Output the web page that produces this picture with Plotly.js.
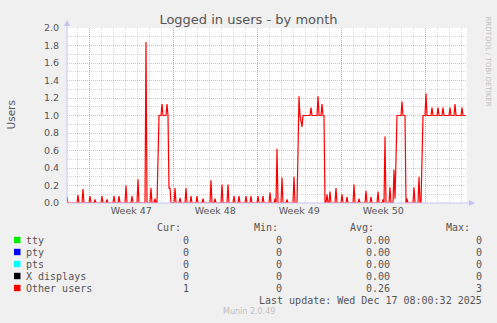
<!DOCTYPE html>
<html><head><meta charset="utf-8">
<script src="https://cdn.plot.ly/plotly-3.0.1.min.js"></script>
<style>html,body{margin:0;padding:0;background:#f0f0f0;}#chart{width:497px;height:323px;}</style>
</head><body><div id="chart"></div>
<script>
// ---- data ----
const startTimeMs = Date.UTC(2025, 10, 15, 3, 20);   // left edge of the graph
const stepHours = 2;                                  // one sample every 2 hours
const otherUsers = [
 0.07,0,0,0,0,0,0,0,0,0,0,0.09,0,0,0,0,0.16,0,0,0,
 0,0,0,0.08,0,0,0,0,0.04,0,0,0,0,0,0,0.08,0,0,0,0,
 0.04,0,0,0,0,0,0,0.08,0,0,0,0,0.08,0,0,0,0,0,0,0.2,
 0,0,0,0,0,0.08,0,0,0,0,0,0.27,0,0,0,0,0,0,0,1.84,
 0,0,0,0,0.17,0,0,0,0.05,0,0,0.4,1,1,1,1.13,1,1,1,1,
 1.13,1,0.17,0.17,0,0,0,0,0.17,0,0,0,0,0.06,0,0,0,0,0,0.17,
 0,0,0,0,0.08,0,0,0,0,0,0.08,0,0,0,0,0,0.05,0,0,0,
 0,0,0,0,0.26,0,0,0,0.05,0,0,0,0,0,0,0.21,0,0,0,0,
 0,0.21,0,0,0,0,0,0.08,0,0,0,0,0.08,0,0,0,0,0,0,0.08,
 0,0,0,0,0.08,0,0,0,0,0,0,0.08,0,0,0,0,0.08,0,0,0,
 0,0,0,0.12,0,0,0,0,0.05,0,0.62,0,0,0,0,0.29,0,0,0,0,
 0.04,0,0,0,0,0,0,0.3,0,0,0,0.6,1.22,1,0.93,0.87,1,1,1,1,
 1,1,1,1,1.09,1,1,1,1,1,1,1.22,1,1,1,1.13,1,1,0,0,
 0.1,0,0,0.13,0,0,0,0,0,0.17,0,0,0,0,0,0.1,0,0,0,0,
 0.07,0,0,0,0,0,0,0.21,0,0,0,0,0.05,0,0,0,0,0,0,0.14,
 0,0,0,0,0.07,0,0,0,0,0,0,0.13,0,0,0,0,0.04,0,0.76,0,
 0,0,0,0.18,0,0,0,0.38,0.05,0.5,1,1,1,1,1,1.16,1,1,1,0,
 0.05,0,0,0,0,0,0,0.18,0,0,0,0,0.3,0,0,0.5,1,1,1,1.25,
 1,1,1,1,1,1.09,1,1,1,1,1,1.09,1,1,1,1,1.09,1,1,1,
 1,1,1,1.09,1,1,1,1,1.13,1,1,1,1,1,1,1.09,1,1,1,1
];
const weekStarts = ['2025-11-17', '2025-11-24', '2025-12-01', '2025-12-08', '2025-12-15'];
const weekLabels = ['Week 47', 'Week 48', 'Week 49', 'Week 50', ''];
const seriesNames  = ['tty', 'pty', 'pts', 'X displays', 'Other users'];
const seriesColors = ['#00ee00', '#0000ff', '#00ffff', '#000000', '#ff0000'];
const curValues = ['0', '0', '0', '0', '1'];
const minValues = ['0', '0', '0', '0', '0'];
const avgValues = ['0.00', '0.00', '0.00', '0.00', '0.26'];
const maxValues = ['0', '0', '0', '0', '3'];
const colHeaders = ['Cur:', 'Min:', 'Avg:', 'Max:'];
const lastUpdate = 'Last update: Wed Dec 17 08:00:32 2025';

// ---- geometry ----
const W = 497, H = 323;
const PL = 67, PR = 467, PT = 28, PB = 203;
const px = v => (v - PL) / (PR - PL);
const py = v => (PB - v) / (PB - PT);
const HOUR = 3600000;
const xs = otherUsers.map((_, i) => startTimeMs + i * stepHours * HOUR);
const xEnd = startTimeMs + otherUsers.length * stepHours * HOUR;

const axisCol = '#c4c4f4';
const txtCol = '#555555';
const mono = 'DejaVu Sans Mono';
const sans = 'DejaVu Sans';
const majorGrid = 'rgba(225,90,90,0.45)';
const minorGrid = 'rgba(150,150,150,0.38)';

const shapes = [
  {type:'line', xref:'paper', yref:'paper', x0:px(PL), x1:px(PL), y0:py(PB), y1:py(24), line:{color:axisCol, width:1}},
  {type:'path', xref:'paper', yref:'paper', path:`M ${px(PL-3)} ${py(26)} L ${px(PL+3)} ${py(26)} L ${px(PL)} ${py(20)} Z`, fillcolor:axisCol, line:{width:0}},
  {type:'line', xref:'paper', yref:'paper', x0:px(PL), x1:px(471), y0:py(PB), y1:py(PB), line:{color:axisCol, width:1}},
  {type:'path', xref:'paper', yref:'paper', path:`M ${px(469)} ${py(PB-3)} L ${px(469)} ${py(PB+3)} L ${px(475)} ${py(PB)} Z`, fillcolor:axisCol, line:{width:0}}
];

const annotations = [];
const rowY = [240, 252, 264, 276, 288];
const headerY = 227;
const colRight = [181, 278, 374, 470];
const valRight = [189, 282, 390, 482];
colHeaders.forEach((h, j) => annotations.push({xref:'paper', yref:'paper', x:px(colRight[j]), y:py(headerY), text:h, showarrow:false, xanchor:'right', yanchor:'middle', font:{family:mono, size:10, color:txtCol}, borderpad:0, borderwidth:0}));
seriesNames.forEach((name, k) => {
  shapes.push({type:'rect', xref:'paper', yref:'paper', x0:px(14), x1:px(20.5), y0:py(rowY[k]+3.2), y1:py(rowY[k]-3.2), fillcolor:seriesColors[k], line:{width:0}});
  annotations.push({xref:'paper', yref:'paper', x:px(26), y:py(rowY[k]), text:name, showarrow:false, xanchor:'left', yanchor:'middle', font:{family:mono, size:10, color:txtCol}, borderpad:0, borderwidth:0});
  [curValues[k], minValues[k], avgValues[k], maxValues[k]].forEach((v, j) => {
    annotations.push({xref:'paper', yref:'paper', x:px(valRight[j]), y:py(rowY[k]), text:v, showarrow:false, xanchor:'right', yanchor:'middle', font:{family:mono, size:10, color:txtCol}, borderpad:0, borderwidth:0});
  });
});
annotations.push({xref:'paper', yref:'paper', x:px(482), y:py(300), text:lastUpdate, showarrow:false, xanchor:'right', yanchor:'middle', font:{family:mono, size:10, color:txtCol}, borderpad:0, borderwidth:0});
annotations.push({xref:'paper', yref:'paper', x:px(248.5), y:py(311), text:'Munin 2.0.49', showarrow:false, xanchor:'center', yanchor:'middle', font:{family:sans, size:8, color:'#c0c0c0'}, borderpad:0, borderwidth:0});
annotations.push({xref:'paper', yref:'paper', x:px(487.5), y:py(61), text:'RRDTOOL / TOBI OETIKER', showarrow:false, textangle:90, xanchor:'center', yanchor:'middle', font:{family:sans, size:7, color:'#c0c0c0'}, borderpad:0, borderwidth:0});
annotations.push({xref:'paper', yref:'paper', x:px(10.5), y:py(115), text:'Users', showarrow:false, textangle:-90, xanchor:'center', yanchor:'middle', font:{family:sans, size:10.5, color:txtCol}, borderpad:0, borderwidth:0});

const traces = [{
  type:'scatter', mode:'lines', name:'Other users', x:xs, y:otherUsers,
  line:{color:'#ff0000', width:1.2}, hoverinfo:'skip'
}];

const layout = {
  width:W, height:H,
  margin:{l:PL, r:W-PR, t:PT, b:H-PB, pad:0},
  paper_bgcolor:'#f0f0f0', plot_bgcolor:'#ffffff',
  showlegend:false,
  title:{text:'Logged in users - by month', x:0.5, xref:'container', xanchor:'center', y:1-19/H, yref:'container', yanchor:'middle', font:{family:sans, size:13, color:txtCol}},
  xaxis:{
    type:'date', range:[startTimeMs, xEnd], fixedrange:true,
    tickmode:'array', tickvals:weekStarts, ticktext:weekLabels, ticklabelshift:42,
    ticks:'', showline:false, zeroline:false,
    showgrid:true, gridcolor:majorGrid, griddash:'1px,1px', gridwidth:1,
    minor:{dtick:86400000, tick0:'2025-11-17', showgrid:true, gridcolor:minorGrid, griddash:'1px,1px', gridwidth:1, ticks:''},
    tickfont:{family:sans, size:9.5, color:txtCol}
  },
  yaxis:{
    range:[0, 2], fixedrange:true, tickmode:'linear', tick0:0, dtick:0.2, tickformat:'.1f',
    ticks:'outside', ticklen:5, tickcolor:'rgba(0,0,0,0)', showline:false, zeroline:false,
    showgrid:true, gridcolor:majorGrid, griddash:'1px,1px', gridwidth:1,
    minor:{dtick:0.1, tick0:0, showgrid:true, gridcolor:minorGrid, griddash:'1px,1px', gridwidth:1, ticks:''},
    tickfont:{family:sans, size:9.5, color:txtCol}
  },
  shapes:shapes, annotations:annotations
};

Plotly.newPlot('chart', traces, layout, {staticPlot:true, displayModeBar:false});
</script>
</body></html>
